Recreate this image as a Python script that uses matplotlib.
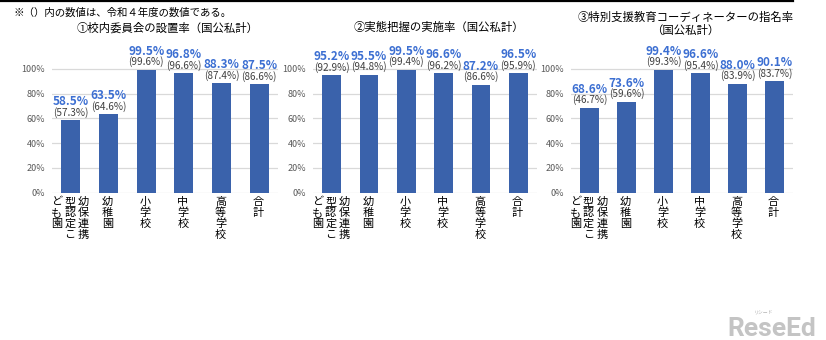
import matplotlib
matplotlib.use('Agg')
import matplotlib.pyplot as plt

plt.rcParams['font.family'] = ['Noto Sans CJK JP', 'DejaVu Sans']

categories = ['幼保連携型認定こども園', '幼稚園', '小学校', '中学校', '高等学校', '合計']

titles = ['①校内委員会の設置率（国公私計）',
          '②実態把握の実施率（国公私計）',
          '③特別支援教育コーディネーターの指名率\n（国公私計）']

rate_r5 = [
    [58.5, 63.5, 99.5, 96.8, 88.3, 87.5],
    [95.2, 95.5, 99.5, 96.6, 87.2, 96.5],
    [68.6, 73.6, 99.4, 96.6, 88.0, 90.1],
]
rate_r4 = [
    [57.3, 64.6, 99.6, 96.6, 87.4, 86.6],
    [92.9, 94.8, 99.4, 96.2, 86.6, 95.9],
    [46.7, 59.6, 99.3, 95.4, 83.9, 83.7],
]

note = '※（）内の数値は、令和４年度の数値である。'

W, H = 826, 340
fig = plt.figure(figsize=(W / 100, H / 100), dpi=100)

BAR = '#3A62AB'
BLUE = '#3C6FD2'
GRAY = '#404040'
TICK = '#595959'

y0_px = 192.7
y100_px = 69.0
scale = y0_px - y100_px
ytop = 1.02
panels_x = [(52, 226), (313, 224), (571, 222)]
title_pos = [(167.5, 28), (438.5, 27), (685.5, 23.5)]

PT = 72 / 100  # points per pixel

for k in range(3):
    lx, w = panels_x[k]
    top_px = y0_px - ytop * scale
    ax = fig.add_axes([lx / W, (H - y0_px) / H, w / W, (y0_px - top_px) / H])
    vals = [v / 100 for v in rate_r5[k]]
    xs = list(range(len(categories)))
    ax.bar(xs, vals, width=0.5, color=BAR, zorder=3)
    ax.set_xlim(-0.5, len(categories) - 0.5)
    ax.set_ylim(0, ytop)
    ax.set_yticks([0, 0.2, 0.4, 0.6, 0.8, 1.0])
    ax.set_yticklabels(['0%', '20%', '40%', '60%', '80%', '100%'])
    ax.tick_params(axis='y', length=0, pad=5, labelsize=6.5, labelcolor=TICK)
    ax.set_xticks([])
    ax.grid(axis='y', color='#d9d9d9', linewidth=0.9, zorder=0)
    for s in ax.spines.values():
        s.set_visible(False)
    ax.set_facecolor('none')

    for i, v in enumerate(vals):
        ax.annotate('(%.1f%%)' % rate_r4[k][i], xy=(i, v), xytext=(0, 4.5 * PT),
                    textcoords='offset points', ha='center', va='baseline',
                    fontsize=7.2, color=GRAY, annotation_clip=False)
        ax.annotate('%.1f%%' % rate_r5[k][i], xy=(i, v), xytext=(0, 15 * PT),
                    textcoords='offset points', ha='center', va='baseline',
                    fontsize=8.5, fontweight='bold', color=BLUE,
                    annotation_clip=False)

    # vertical category labels
    for i, cat in enumerate(categories):
        cols = [cat[j:j + 4] for j in range(0, len(cat), 4)]
        n = len(cols)
        for c, col in enumerate(cols):
            dx = ((n - 1) / 2 - c) * 13.3 - 1
            for r, ch in enumerate(col):
                dy = -(9.5 + r * 10.9)
                ax.annotate(ch, xy=(i, 0), xycoords=('data', 'axes fraction'),
                            xytext=(dx * PT, dy * PT), textcoords='offset points',
                            ha='center', va='center', fontsize=8, color='black',
                            annotation_clip=False)

    tx, ty = title_pos[k]
    fig.text(tx / W, 1 - ty / H, titles[k], ha='center', va='center',
             fontsize=8.2, color='black', linespacing=1.25)

fig.text(13 / W, 1 - 12.5 / H, note, ha='left', va='center', fontsize=7.5,
         color='black')

# top border line
fig.add_artist(plt.Line2D([0, 793 / W], [1 - 1 / H, 1 - 1 / H], color='black',
                          linewidth=1.6, transform=fig.transFigure))

# watermark
fig.text(727 / W, 1 - 336 / H, 'ReseEd', ha='left', va='baseline',
         fontsize=19, fontweight='bold', color='#c4c4c4', family=['Roboto', 'DejaVu Sans'])
fig.text(764 / W, 1 - 313 / H, 'リシード', ha='center', va='center',
         fontsize=3.5, color='#b0b0b0')

fig.savefig('out.png', dpi=100)
